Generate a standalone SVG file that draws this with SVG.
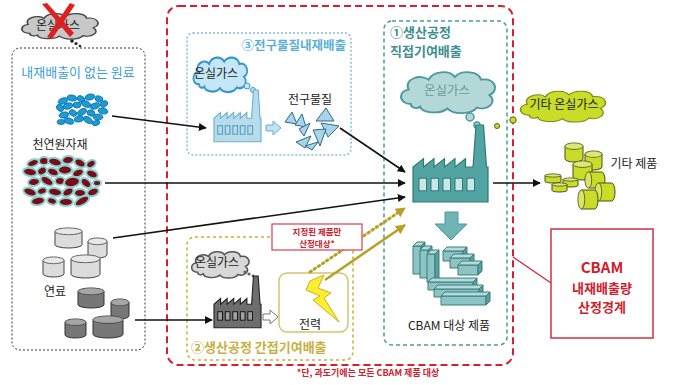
<svg xmlns="http://www.w3.org/2000/svg" width="673" height="385" viewBox="0 0 673 385">
<style>
text{font-family:"Noto Sans CJK KR","Noto Sans",sans-serif;}
.k{fill:#222;font-size:12px;}
.arr{stroke:#111;stroke-width:1.6;fill:none;marker-end:url(#ab);}
.garr{stroke:#b8a020;fill:none;marker-end:url(#ag);}
.red{fill:#d0202e;font-weight:bold;}
.tb{stroke:#3a7c7c;stroke-width:1;}
</style>
<defs>
<marker id="ab" viewBox="0 0 10 10" refX="9" refY="5" markerWidth="8" markerHeight="8" markerUnits="userSpaceOnUse" orient="auto"><path d="M0,0 L10,5 L0,10 Z" fill="#111"/></marker>
<marker id="ag" viewBox="0 0 10 10" refX="9" refY="5" markerWidth="10" markerHeight="10" markerUnits="userSpaceOnUse" orient="auto"><path d="M0,0 L10,5 L0,10 Z" fill="#b8a020"/></marker>
<path id="cloud" d="M15,40 C3,40 3,25 13,24 C8,12 25,6 32,13 C36,3 52,2 57,10 C63,2 80,3 82,13 C95,10 100,25 90,30 C98,38 88,48 78,44 C73,52 55,52 50,45 C43,52 25,50 24,43 C20,46 15,44 15,40 Z"/>
<path id="fac" d="M0,55 L0,30 L7,24 L7,30 L14,24 L14,30 L21,24 L21,30 L28,24 L28,30 L35,24 L35,30 L40,30 L42,0 L47,0 L49,30 L50,30 L50,55 Z"/>
<g id="win"><rect x="4" y="38" width="5" height="9"/><rect x="12" y="38" width="5" height="9"/><rect x="20" y="38" width="5" height="9"/><rect x="28" y="38" width="5" height="9"/><rect x="36" y="38" width="5" height="9"/></g>
<symbol id="cyl" viewBox="0 0 40 30" preserveAspectRatio="none" overflow="visible">
<path d="M0,5 L0,25 A20,5 0 0 0 40,25 L40,5 Z" vector-effect="non-scaling-stroke"/>
<ellipse cx="20" cy="5" rx="20" ry="5" vector-effect="non-scaling-stroke"/>
<ellipse cx="20" cy="5" rx="20" ry="5" fill="#fff" fill-opacity="0.35" stroke="none"/>
</symbol>
<symbol id="lcyl" viewBox="0 0 30 24" preserveAspectRatio="none" overflow="visible">
<path d="M5,0 L25,0 A5,12 0 0 1 25,24 L5,24 Z" vector-effect="non-scaling-stroke"/>
<ellipse cx="5" cy="12" rx="5" ry="12" vector-effect="non-scaling-stroke"/>
<ellipse cx="5" cy="12" rx="5" ry="12" fill="#fff" fill-opacity="0.3" stroke="none"/>
</symbol>
</defs>
<rect width="673" height="385" fill="#fff"/>

<!-- boundaries -->
<g id="boundaries" fill="none">
<rect x="167" y="6" width="346" height="359" rx="12" stroke="#d42030" stroke-width="2" stroke-dasharray="7 4"/>
<rect x="12" y="48" width="133" height="302" rx="8" stroke="#333" stroke-width="1" stroke-dasharray="2 2"/>
<rect x="187" y="33" width="164" height="122" rx="6" stroke="#7ec0e0" stroke-width="1.5" stroke-dasharray="2 2"/>
<rect x="187" y="237" width="166" height="123" rx="8" stroke="#c8b030" stroke-width="1.5" stroke-dasharray="3 3"/>
<rect x="384" y="21" width="123" height="324" rx="8" stroke="#4a9a9e" stroke-width="1.5" stroke-dasharray="4 3"/>
<line x1="513" y1="257" x2="551" y2="283" stroke="#d42030" stroke-width="1.2"/>
</g>

<!-- top-left crossed cloud -->
<g id="no-ghg">
<use href="#cloud" transform="translate(17,11) scale(0.85,0.56)" fill="#c8c8c8" stroke="#444" stroke-width="2"/>
<text x="58" y="30" class="k" font-size="13" text-anchor="middle">온실가스</text>
<path d="M42,4 L47,3 L74,33 L70,37 Z" fill="#e02020"/>
<path d="M70,3 L75,5 L52,39 L47,37 Z" fill="#e02020"/>
<circle cx="72" cy="41" r="1.8" fill="#222"/><circle cx="76" cy="43.5" r="1.5" fill="#222"/><circle cx="80" cy="46" r="1.3" fill="#222"/>
</g>

<!-- left materials -->
<g id="materials">
<text x="78" y="77" text-anchor="middle" fill="#3aa0d8" font-size="13">내재배출이 없는 원료</text>
<g fill="#1a9ad6" stroke="#0d6ea0" stroke-width="0.8">
<ellipse cx="63" cy="101" rx="5" ry="3" transform="rotate(-20 63 101)"/><ellipse cx="72" cy="98" rx="5" ry="3" transform="rotate(10 72 98)"/><ellipse cx="81" cy="99" rx="4" ry="3" transform="rotate(30 81 99)"/><ellipse cx="90" cy="97" rx="5" ry="3" transform="rotate(-10 90 97)"/><ellipse cx="99" cy="99" rx="4" ry="3" transform="rotate(20 99 99)"/><ellipse cx="104" cy="104" rx="4" ry="3" transform="rotate(-30 104 104)"/>
<ellipse cx="60" cy="108" rx="4" ry="3" transform="rotate(40 60 108)"/><ellipse cx="68" cy="106" rx="5" ry="3" transform="rotate(-15 68 106)"/><ellipse cx="77" cy="105" rx="4" ry="3"/><ellipse cx="86" cy="104" rx="5" ry="3" transform="rotate(25 86 104)"/><ellipse cx="95" cy="106" rx="5" ry="3" transform="rotate(-20 95 106)"/><ellipse cx="103" cy="111" rx="5" ry="3" transform="rotate(10 103 111)"/>
<ellipse cx="64" cy="115" rx="5" ry="3" transform="rotate(-10 64 115)"/><ellipse cx="73" cy="113" rx="4" ry="3" transform="rotate(30 73 113)"/><ellipse cx="82" cy="112" rx="5" ry="3" transform="rotate(-30 82 112)"/><ellipse cx="91" cy="113" rx="4" ry="3" transform="rotate(15 91 113)"/><ellipse cx="98" cy="117" rx="5" ry="3"/>
<ellipse cx="69" cy="121" rx="5" ry="3" transform="rotate(20 69 121)"/><ellipse cx="79" cy="119" rx="5" ry="3" transform="rotate(-10 79 119)"/><ellipse cx="88" cy="120" rx="5" ry="3" transform="rotate(30 88 120)"/><ellipse cx="61" cy="122" rx="4" ry="2.5"/><ellipse cx="96" cy="123" rx="4" ry="2.5" transform="rotate(-20 96 123)"/>
</g>
<text x="60" y="149" class="k" text-anchor="middle">천연원자재</text>
<g fill="#7a0c18" stroke="#8cd0d0" stroke-width="2">
<ellipse cx="33" cy="163" rx="6" ry="3.5" transform="rotate(-20 33 163)"/><ellipse cx="44" cy="161" rx="5" ry="4"/><ellipse cx="55" cy="162" rx="7" ry="4" transform="rotate(15 55 162)"/><ellipse cx="68" cy="160" rx="6" ry="4" transform="rotate(-10 68 160)"/><ellipse cx="80" cy="163" rx="6" ry="4" transform="rotate(30 80 163)"/><ellipse cx="91" cy="164" rx="5" ry="3.5" transform="rotate(-30 91 164)"/>
<ellipse cx="30" cy="172" rx="7" ry="4" transform="rotate(10 30 172)"/><ellipse cx="42" cy="171" rx="5" ry="4" transform="rotate(-30 42 171)"/><ellipse cx="53" cy="172" rx="6" ry="4" transform="rotate(20 53 172)"/><ellipse cx="65" cy="170" rx="7" ry="4.5"/><ellipse cx="78" cy="173" rx="6" ry="4" transform="rotate(-20 78 173)"/><ellipse cx="92" cy="174" rx="6" ry="4" transform="rotate(20 92 174)"/>
<ellipse cx="34" cy="182" rx="6" ry="4" transform="rotate(-10 34 182)"/><ellipse cx="47" cy="181" rx="7" ry="4" transform="rotate(30 47 181)"/><ellipse cx="60" cy="181" rx="5" ry="4"/><ellipse cx="72" cy="182" rx="8" ry="5" transform="rotate(-10 72 182)"/><ellipse cx="86" cy="183" rx="6" ry="4" transform="rotate(40 86 183)"/><ellipse cx="97" cy="183" rx="4" ry="3"/>
<ellipse cx="30" cy="192" rx="7" ry="4" transform="rotate(20 30 192)"/><ellipse cx="42" cy="191" rx="5" ry="3.5" transform="rotate(-20 42 191)"/><ellipse cx="55" cy="192" rx="7" ry="4" transform="rotate(10 55 192)"/><ellipse cx="68" cy="192" rx="6" ry="4" transform="rotate(-30 68 192)"/><ellipse cx="80" cy="193" rx="6" ry="4"/><ellipse cx="93" cy="192" rx="6" ry="4" transform="rotate(-20 93 192)"/>
<ellipse cx="38" cy="201" rx="7" ry="4" transform="rotate(-10 38 201)"/><ellipse cx="52" cy="201" rx="5" ry="3.5" transform="rotate(20 52 201)"/><ellipse cx="66" cy="202" rx="7" ry="4"/><ellipse cx="82" cy="201" rx="8" ry="4" transform="rotate(-30 82 201)"/>
</g>
<g fill="#dcdcdc" stroke="#444" stroke-width="1">
<use href="#cyl" x="55" y="228" width="27" height="20"/>
<use href="#cyl" x="88" y="238" width="19" height="20"/>
<use href="#cyl" x="43" y="257" width="21" height="20"/>
<use href="#cyl" x="71" y="255" width="29" height="23"/>
</g>
<text x="55" y="296" class="k" text-anchor="middle">연료</text>
<g fill="#777" stroke="#333" stroke-width="1">
<use href="#cyl" x="78" y="288" width="26" height="20"/>
<use href="#cyl" x="111" y="299" width="18" height="20"/>
<use href="#cyl" x="65" y="319" width="21" height="19"/>
<use href="#cyl" x="93" y="316" width="30" height="22"/>
</g>
</g>

<!-- ③ precursor -->
<g id="precursor">
<text x="346" y="50" text-anchor="end" fill="#5ab0d4" font-size="12.5" font-weight="bold">③전구물질내재배출</text>
<use href="#cloud" transform="translate(190,54) scale(0.6,0.76)" fill="#c4e6f6" stroke="#3a98c8" stroke-width="3"/>
<text x="216" y="78" class="k" font-size="13" text-anchor="middle">온실가스</text>
<circle cx="247" cy="86" r="3" fill="#c4e6f6" stroke="#3a98c8"/><circle cx="253" cy="90" r="2.5" fill="#c4e6f6" stroke="#3a98c8"/>
<use href="#fac" transform="translate(214,90) scale(0.94)" fill="#b8dcec" stroke="#6ab0d0" stroke-width="1.2"/>
<use href="#win" transform="translate(214,90) scale(0.94)" fill="none" stroke="#5aa0c0" stroke-width="1.2"/>
<path d="M266,125 L273,125 L273,121 L281,128 L273,135 L273,131 L266,131 Z" fill="#c0e0f0" stroke="#6ab0d0"/>
<text x="310" y="104" class="k" text-anchor="middle">전구물질</text>
<g fill="#a8d4ea" stroke="#2e6a88" stroke-width="1">
<path d="M285,122 L292,112 L297,124 Z"/><path d="M295,125 L302,114 L306,127 Z"/><path d="M299,129 L310,123 L304,136 Z"/>
<path d="M316,121 L326,108 L334,121 Z"/><path d="M321,123 L339,126 L328,137 Z"/><path d="M313,130 L326,129 L320,146 Z"/>
<path d="M296,142 L311,136 L305,148 Z"/><path d="M305,146 L318,142 L312,150 Z"/>
</g>
</g>

<!-- ① direct -->
<g id="direct">
<text x="390" y="37" fill="#3e8e90" font-size="13" font-weight="bold">①생산공정</text>
<text x="390" y="56" fill="#3e8e90" font-size="13" font-weight="bold">직접기여배출</text>
<use href="#cloud" transform="translate(395,68) scale(1.05,0.9)" fill="#b4d8d8" stroke="#4a9a9e" stroke-width="2"/>
<text x="447" y="95" fill="#6a9a9a" font-size="12.5" text-anchor="middle">온실가스</text>
<circle cx="470" cy="117" r="4" fill="#b4d8d8" stroke="#4a9a9e" stroke-width="1.5"/><circle cx="477" cy="125" r="3" fill="#b4d8d8" stroke="#4a9a9e" stroke-width="1.5"/>
<use href="#fac" transform="translate(413,125) scale(1.5,1.4)" fill="#52a4a2" stroke="#2e7878" stroke-width="0.8"/>
<use href="#win" transform="translate(413,125) scale(1.5,1.4)" fill="#c8e8e8" stroke="#2a6e6e" stroke-width="0.6"/>
<path d="M445,212 L458,212 L458,224 L467,224 L451,240 L435,224 L445,224 Z" fill="#70b4b4" stroke="#4a9a9e"/>
<g class="tb">
<g><path d="M413,246 h8 v28 h-8 Z" fill="#8cc4c4"/><path d="M413,246 l4,-4 h8 l-4,4 Z" fill="#b4dada"/><path d="M421,246 l4,-4 v28 l-4,4 Z" fill="#5a9e9e"/></g>
<g><path d="M420,250 h8 v28 h-8 Z" fill="#8cc4c4"/><path d="M420,250 l4,-4 h8 l-4,4 Z" fill="#b4dada"/><path d="M428,250 l4,-4 v28 l-4,4 Z" fill="#5a9e9e"/></g>
<g><path d="M427,254 h8 v28 h-8 Z" fill="#8cc4c4"/><path d="M427,254 l4,-4 h8 l-4,4 Z" fill="#b4dada"/><path d="M435,254 l4,-4 v28 l-4,4 Z" fill="#5a9e9e"/></g>
<g><path d="M443,251 h20 v10 h-20 Z" fill="#8cc4c4"/><path d="M443,251 l4,-4 h20 l-4,4 Z" fill="#b4dada"/><path d="M463,251 l4,-4 v10 l-4,4 Z" fill="#5a9e9e"/></g>
<g><path d="M450,258 h20 v10 h-20 Z" fill="#8cc4c4"/><path d="M450,258 l4,-4 h20 l-4,4 Z" fill="#b4dada"/><path d="M470,258 l4,-4 v10 l-4,4 Z" fill="#5a9e9e"/></g>
<g><path d="M458,265 h20 v10 h-20 Z" fill="#8cc4c4"/><path d="M458,265 l4,-4 h20 l-4,4 Z" fill="#b4dada"/><path d="M478,265 l4,-4 v10 l-4,4 Z" fill="#5a9e9e"/></g>
<g><path d="M428,282 h45 v8 h-45 Z" fill="#8cc4c4"/><path d="M428,282 l4,-4 h45 l-4,4 Z" fill="#b4dada"/><path d="M473,282 l4,-4 v8 l-4,4 Z" fill="#5a9e9e"/></g>
<g><path d="M434,289 h45 v8 h-45 Z" fill="#8cc4c4"/><path d="M434,289 l4,-4 h45 l-4,4 Z" fill="#b4dada"/><path d="M479,289 l4,-4 v8 l-4,4 Z" fill="#5a9e9e"/></g>
<g><path d="M441,296 h45 v9 h-45 Z" fill="#8cc4c4"/><path d="M441,296 l4,-4 h45 l-4,4 Z" fill="#b4dada"/><path d="M486,296 l4,-4 v9 l-4,4 Z" fill="#5a9e9e"/></g>
</g>
<text x="449" y="330" class="k" font-size="13" text-anchor="middle">CBAM 대상 제품</text>
</g>

<!-- ② indirect -->
<g id="indirect">
<text x="191" y="352" fill="#c8b040" font-size="13" font-weight="bold">②생산공정 간접기여배출</text>
<use href="#cloud" transform="translate(188,249) scale(0.64,0.58)" fill="#d8d8d8" stroke="#555" stroke-width="2.5"/>
<text x="217" y="267" class="k" font-size="13" text-anchor="middle">온실가스</text>
<circle cx="245" cy="272" r="1.6" fill="#666"/><circle cx="249" cy="274" r="1.6" fill="#666"/><circle cx="253" cy="276" r="1.4" fill="#666"/>
<use href="#fac" transform="translate(214,276) scale(0.94)" fill="#6e6e6e" stroke="#222" stroke-width="1.2"/>
<use href="#win" transform="translate(214,276) scale(0.94)" fill="#a0a0a0" stroke="#111" stroke-width="1"/>
<path d="M263,314 L270,314 L270,310 L278,317 L270,324 L270,320 L263,320 Z" fill="#fff" stroke="#777"/>
<rect x="279" y="273" width="69" height="59" rx="8" fill="#fff" stroke="#d4c470" stroke-width="1.5"/>
<path d="M310,281 L324,275 L318,288 L331,293 L324,298 L339,322 L313,300 L320,296 L306,290 Z" fill="#ffee30" stroke="#c8b020" stroke-width="1"/>
<text x="310" y="329" class="k" font-size="13" text-anchor="middle">전력</text>
</g>

<!-- connectors -->
<g id="connectors">
<line class="arr" x1="112" y1="116" x2="206" y2="128"/>
<line class="arr" x1="340" y1="128" x2="405" y2="172"/>
<line class="arr" x1="105" y1="183" x2="405" y2="183"/>
<line class="arr" x1="113" y1="238" x2="405" y2="197"/>
<line class="arr" x1="135" y1="320" x2="212" y2="320"/>
<line class="arr" x1="493" y1="183" x2="540" y2="183"/>
<line class="garr" x1="310" y1="272" x2="405" y2="208" stroke-width="3" stroke-dasharray="1.5 3.5" stroke-linecap="round"/>
<line class="garr" x1="325" y1="280" x2="405" y2="225" stroke-width="2.5"/>
</g>

<g id="label-designated">
<rect x="272" y="224" width="90" height="26" fill="#fff" stroke="#d04050" stroke-width="1.2"/>
<text x="317" y="235" class="red" font-size="8.5" text-anchor="middle">지정된 제품만</text>
<text x="317" y="247" class="red" font-size="8.5" text-anchor="middle">산정대상*</text>
</g>

<!-- other GHG & products -->
<g id="other">
<circle cx="497" cy="126" r="2.5" fill="#c8dc28" stroke="#5a6010"/>
<circle cx="513" cy="120" r="3.2" fill="#c8dc28" stroke="#5a6010"/>
<use href="#cloud" transform="translate(515,88) scale(0.95,0.68)" fill="#c8dc28" stroke="#7a8a10" stroke-width="1.5"/>
<text x="564" y="109" class="k" text-anchor="middle">기타 온실가스</text>
<g fill="#c8dc28" stroke="#4a5010" stroke-width="1">
<use href="#cyl" x="565" y="143" width="18" height="19"/>
<use href="#cyl" x="585" y="151" width="17" height="19"/>
<use href="#cyl" x="573" y="161" width="19" height="19"/>
<use href="#cyl" x="545" y="174" width="16" height="9"/>
<use href="#cyl" x="563" y="178" width="15" height="9"/>
<use href="#cyl" x="552" y="183" width="15" height="9"/>
<use href="#lcyl" x="585" y="172" width="20" height="16"/>
<use href="#lcyl" x="595" y="183" width="20" height="18"/>
<use href="#lcyl" x="578" y="190" width="20" height="19"/>
</g>
<text x="634" y="168" class="k" text-anchor="middle">기타 제품</text>
</g>

<g id="cbam-box">
<rect x="551" y="229" width="102" height="109" fill="#fff" stroke="#d03040" stroke-width="1.5"/>
<text x="602" y="273" class="red" font-size="15" text-anchor="middle" font-family="Liberation Sans, sans-serif">CBAM</text>
<text x="602" y="293" class="red" font-size="13" text-anchor="middle">내재배출량</text>
<text x="602" y="312" class="red" font-size="13" text-anchor="middle">산정경계</text>
</g>

<text x="368" y="376" class="red" font-size="9" text-anchor="middle">*단, 과도기에는 모든 CBAM 제품 대상</text>
</svg>
